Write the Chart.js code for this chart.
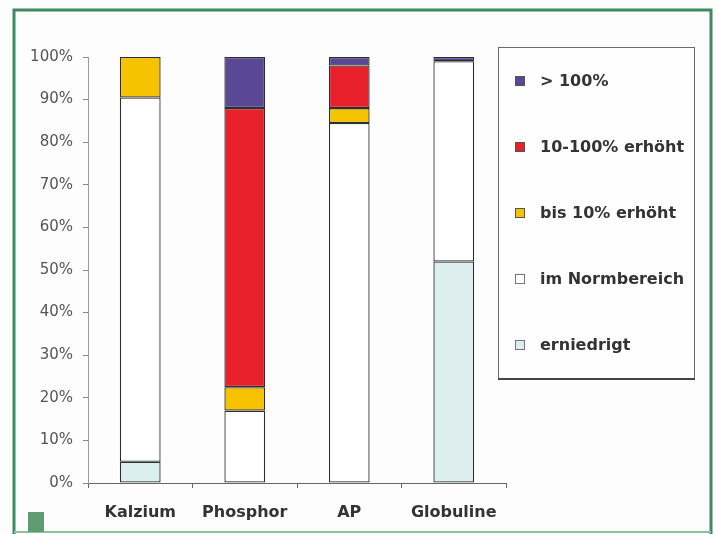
<!DOCTYPE html>
<html>
<head>
<meta charset="utf-8">
<script src="https://cdn.jsdelivr.net/npm/chart.js@4/dist/chart.umd.min.js"></script>
<style>
  html, body { margin: 0; padding: 0; background: #fcfdfc; }
  #wrap { width: 717px; height: 534px; }
</style>
</head>
<body>
<div id="wrap"><canvas id="c" width="717" height="534"></canvas></div>
<script>
// Laborparameter (Kategorien)
const categories = ['Kalzium', 'Phosphor', 'AP', 'Globuline'];

// Anteile je Befundklasse in Prozent, von unten nach oben gestapelt
const erniedrigt    = [5, 0, 0, 52];
const imNormbereich = [85.5, 17, 84.5, 47];
const bis10erhoeht  = [9.5, 5.5, 3.5, 0];
const erhoeht10_100 = [0, 65.5, 10, 0];
const ueber100      = [0, 12, 2, 1];

const seriesLabels = ['erniedrigt', 'im Normbereich', 'bis 10% erhöht', '10-100% erhöht', '> 100%'];
const seriesColors = ['#dcefee', '#ffffff', '#f5c300', '#e8202c', '#5a4894'];

const yTicks = [0, 10, 20, 30, 40, 50, 60, 70, 80, 90, 100];

const seriesData = [erniedrigt, imNormbereich, bis10erhoeht, erhoeht10_100, ueber100];

const datasets = seriesData.map((d, i) => ({
  label: seriesLabels[i],
  data: d,
  backgroundColor: seriesColors[i],
  borderColor: '#2e2e2e',
  borderWidth: 1.3,
  borderSkipped: false,
  barPercentage: 0.39,
  categoryPercentage: 1.0
}));

// Hintergrund, grüner Rahmen und kleines Eckquadrat
const framePlugin = {
  id: 'frame',
  beforeDraw(chart) {
    const ctx = chart.ctx;
    ctx.save();
    ctx.fillStyle = '#fcfdfc';
    ctx.fillRect(0, 0, chart.width, chart.height);
    ctx.restore();
  },
  afterDraw(chart) {
    const ctx = chart.ctx;
    ctx.save();
    ctx.strokeStyle = '#3f8a62';
    ctx.lineWidth = 3;
    ctx.beginPath();
    ctx.moveTo(14, 536);
    ctx.lineTo(14, 10);
    ctx.lineTo(711, 10);
    ctx.lineTo(711, 536);
    ctx.stroke();
    ctx.strokeStyle = '#8cc4a0';
    ctx.lineWidth = 2;
    ctx.beginPath();
    ctx.moveTo(14, 532);
    ctx.lineTo(711, 532);
    ctx.stroke();
    ctx.fillStyle = '#5e9c70';
    ctx.fillRect(28, 512, 16, 20);
    ctx.restore();
  }
};

// Legende im umrandeten Kasten rechts oben
const boxLegend = {
  id: 'boxLegend',
  afterDraw(chart) {
    const ctx = chart.ctx;
    const left = 498, top = 47, right = 694, bottom = 378;
    ctx.save();
    ctx.fillStyle = '#fdfefd';
    ctx.fillRect(left, top, right - left, bottom - top);
    ctx.strokeStyle = '#6a6a6a';
    ctx.lineWidth = 1;
    ctx.strokeRect(left + 0.5, top + 0.5, right - left, bottom - top);
    ctx.strokeStyle = '#444';
    ctx.lineWidth = 2;
    ctx.beginPath();
    ctx.moveTo(left, bottom + 1);
    ctx.lineTo(right + 1, bottom + 1);
    ctx.stroke();

    const items = chart.data.datasets.map(ds => ({ text: ds.label, color: ds.backgroundColor })).reverse();
    ctx.font = 'bold 16px "DejaVu Sans", sans-serif';
    ctx.textBaseline = 'middle';
    ctx.textAlign = 'left';
    items.forEach((it, i) => {
      const cy = 81 + i * 66;
      ctx.fillStyle = it.color;
      ctx.fillRect(515.5, cy - 4.5, 9, 9);
      ctx.strokeStyle = it.color === '#ffffff' || it.color === '#dcefee' ? '#777' : '#555';
      ctx.lineWidth = 1;
      ctx.strokeRect(515.5, cy - 4.5, 9, 9);
      ctx.fillStyle = '#333';
      ctx.fillText(it.text, 540, cy + 1);
    });
    ctx.restore();
  }
};

new Chart(document.getElementById('c'), {
  type: 'bar',
  data: { labels: categories, datasets },
  options: {
    responsive: false,
    animation: false,
    layout: { padding: { left: 0, right: 211, top: 57, bottom: 0 } },
    plugins: {
      legend: { display: false },
      tooltip: { enabled: false }
    },
    scales: {
      x: {
        stacked: true,
        afterFit: s => { s.height = 51; },
        grid: { drawOnChartArea: false, offset: true, color: '#666', tickLength: 5 },
        border: { color: '#666', width: 1 },
        ticks: {
          color: '#333',
          padding: 15,
          font: { family: '"DejaVu Sans", sans-serif', size: 16, weight: 'bold' }
        }
      },
      y: {
        stacked: true,
        min: 0,
        max: 100,
        afterFit: s => { s.width = 88; },
        afterBuildTicks: s => { s.ticks = yTicks.map(v => ({ value: v })); },
        grid: { drawOnChartArea: false, color: '#888', tickLength: 5 },
        border: { color: '#999', width: 1 },
        ticks: {
          color: '#555',
          padding: 10,
          callback: v => v + '%',
          font: { family: '"DejaVu Sans", sans-serif', size: 15 }
        }
      }
    }
  },
  plugins: [framePlugin, boxLegend]
});
</script>
</body>
</html>
